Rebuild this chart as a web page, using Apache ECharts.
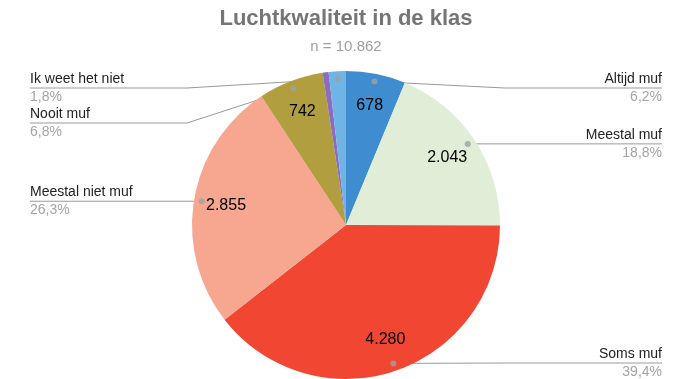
<!DOCTYPE html>
<html>
<head>
<meta charset="utf-8">
<script src="https://cdn.jsdelivr.net/npm/echarts@6/dist/echarts.min.js"></script>
<style>
  html, body { margin: 0; padding: 0; background: #ffffff; }
  #chart { width: 678px; height: 379px; }
</style>
</head>
<body>
<div id="chart"></div>
<script>
// Survey answers, in clockwise order from 12 o'clock
const categories = ['Altijd muf', 'Meestal muf', 'Soms muf', 'Meestal niet muf', 'Nooit muf', 'Geen antwoord', 'Ik weet het niet'];
const counts = [678, 2043, 4280, 2855, 742, 68, 196];
const showName = [true, true, true, true, true, false, true];
const titleText = 'Luchtkwaliteit in de klas';

const sliceColors = ['#3f8dd0', '#e0eed8', '#f04632', '#f7a790', '#b19f3f', '#8b6dbd', '#6fb4e5'];
const FONT = "'Liberation Sans', Arial, sans-serif";

// Pie geometry
const CX = 346, CY = 225, R = 154;
const DOT_R = 0.95;          // leader lines start at this fraction of the radius
const VALUE_R = 0.77;        // counts are centred at this fraction of the radius
const UNDERLINE = 157;       // width of the rule under each outside label
const EDGE_L = 30, EDGE_R = 16;
const LINE_TOP = 88, LINE_BOTTOM = 363, LINE_STEP = 35;

const total = counts.reduce((a, b) => a + b, 0);
const fmtInt = v => String(v).replace(/\B(?=(\d{3})+(?!\d))/g, '.');
const fmtPct = v => (v / total * 100).toFixed(1).replace('.', ',') + '%';

// cumulative mid-point of each slice
const mids = [];
let acc = 0;
counts.forEach(v => { mids.push(acc + v / 2); acc += v; });

// position of the leader dot of each slice
const dots = mids.map(m => {
  const a = m / total * Math.PI * 2;
  return [CX + DOT_R * R * Math.sin(a), CY - DOT_R * R * Math.cos(a)];
});

// vertical position of each outside label: next to its dot, kept apart from its neighbours
const lineY = [];
['left', 'right'].forEach(side => {
  const idx = categories.map((c, i) => i)
    .filter(i => showName[i] && ((dots[i][0] < CX) === (side === 'left')))
    .sort((a, b) => dots[a][1] - dots[b][1]);
  let prev = -Infinity;
  idx.forEach(i => {
    const y = Math.max(dots[i][1], LINE_TOP, prev + LINE_STEP);
    lineY[i] = y;
    prev = y;
  });
  let next = Infinity;
  idx.slice().reverse().forEach(i => {
    const y = Math.min(lineY[i], LINE_BOTTOM, next - LINE_STEP);
    lineY[i] = y;
    next = y;
  });
});

const baseData = categories.map((name, i) => ({
  name: name,
  value: counts[i],
  itemStyle: { color: sliceColors[i] }
}));

const valueData = categories.map((name, i) => ({
  name: name,
  value: counts[i],
  label: { show: counts[i] / total > 0.05 }
}));

const nameData = categories.map((name, i) => ({
  name: name,
  value: counts[i],
  label: { show: showName[i] },
  labelLine: { show: showName[i] }
}));

const dotData = [];
counts.forEach((v, i) => { if (showName[i]) dotData.push([DOT_R, mids[i]]); });

const chart = echarts.init(document.getElementById('chart'), null, { renderer: 'canvas' });

chart.setOption({
  animation: false,
  backgroundColor: '#ffffff',
  graphic: [
    {
      type: 'text',
      x: CX,
      y: 19,
      silent: true,
      style: {
        text: titleText,
        align: 'center', verticalAlign: 'middle',
        textAlign: 'center', textVerticalAlign: 'middle',
        fill: '#757575',
        font: 'bold 22px ' + FONT
      }
    },
    {
      type: 'text',
      x: CX,
      y: 47,
      silent: true,
      style: {
        text: 'n = ' + fmtInt(total),
        align: 'center', verticalAlign: 'middle',
        textAlign: 'center', textVerticalAlign: 'middle',
        fill: '#9e9e9e',
        font: '15px ' + FONT
      }
    }
  ],
  polar: { center: [CX, CY], radius: R },
  angleAxis: {
    type: 'value', min: 0, max: total, startAngle: 90, clockwise: true,
    show: false, axisLine: { show: false }, splitLine: { show: false }, axisLabel: { show: false }, axisTick: { show: false }
  },
  radiusAxis: {
    type: 'value', min: 0, max: 1,
    show: false, axisLine: { show: false }, splitLine: { show: false }, axisLabel: { show: false }, axisTick: { show: false }
  },
  series: [
    {
      // the slices
      type: 'pie',
      center: [CX, CY],
      radius: [0, R],
      startAngle: 90,
      clockwise: true,
      silent: true,
      label: { show: false },
      labelLine: { show: false },
      itemStyle: { borderWidth: 0 },
      emphasis: { disabled: true },
      data: baseData
    },
    {
      // counts written inside the slices
      type: 'pie',
      center: [CX, CY],
      radius: [R * (2 * VALUE_R - 1), R],
      startAngle: 90,
      clockwise: true,
      silent: true,
      itemStyle: { color: 'transparent', borderWidth: 0 },
      label: {
        show: true,
        position: 'inside',
        formatter: p => fmtInt(p.value),
        fontFamily: FONT,
        fontSize: 16,
        color: '#000000'
      },
      labelLine: { show: false },
      emphasis: { disabled: true },
      data: valueData
    },
    {
      // category names and shares at the sides
      type: 'pie',
      left: EDGE_L,
      right: EDGE_R,
      top: 0,
      bottom: 0,
      center: [CX - EDGE_L, CY],
      radius: [0, R * DOT_R],
      startAngle: 90,
      clockwise: true,
      silent: true,
      avoidLabelOverlap: false,
      itemStyle: { color: 'transparent', borderWidth: 0 },
      label: {
        show: true,
        position: 'outside',
        alignTo: 'edge',
        edgeDistance: 0,
        formatter: p => '{n|' + p.name + '}\n{p|' + fmtPct(p.value) + '}',
        rich: {
          n: { fontFamily: FONT, fontSize: 14, color: '#222222', lineHeight: 18 },
          p: { fontFamily: FONT, fontSize: 14, color: '#a4a4a4', lineHeight: 18 }
        }
      },
      labelLine: {
        show: true,
        length: 4,
        length2: 4,
        lineStyle: { color: '#9a9a9a', width: 1 }
      },
      labelLayout: function (p) {
        const i = p.dataIndex;
        const rect = p.labelRect;
        if (!rect || lineY[i] == null) return {};
        const y = lineY[i];
        const onLeft = dots[i][0] < CX;
        const far = onLeft ? rect.x : rect.x + rect.width;
        const near = onLeft ? far + UNDERLINE : far - UNDERLINE;
        return {
          y: y,
          verticalAlign: 'middle',
          labelLinePoints: [[dots[i][0], dots[i][1]], [near, y], [far, y]]
        };
      },
      emphasis: { disabled: true },
      data: nameData
    },
    {
      // leader-line dots
      type: 'scatter',
      coordinateSystem: 'polar',
      symbol: 'circle',
      symbolSize: 6,
      silent: true,
      itemStyle: { color: '#a0a0a0' },
      emphasis: { disabled: true },
      z: 5,
      data: dotData
    }
  ]
});
</script>
</body>
</html>
